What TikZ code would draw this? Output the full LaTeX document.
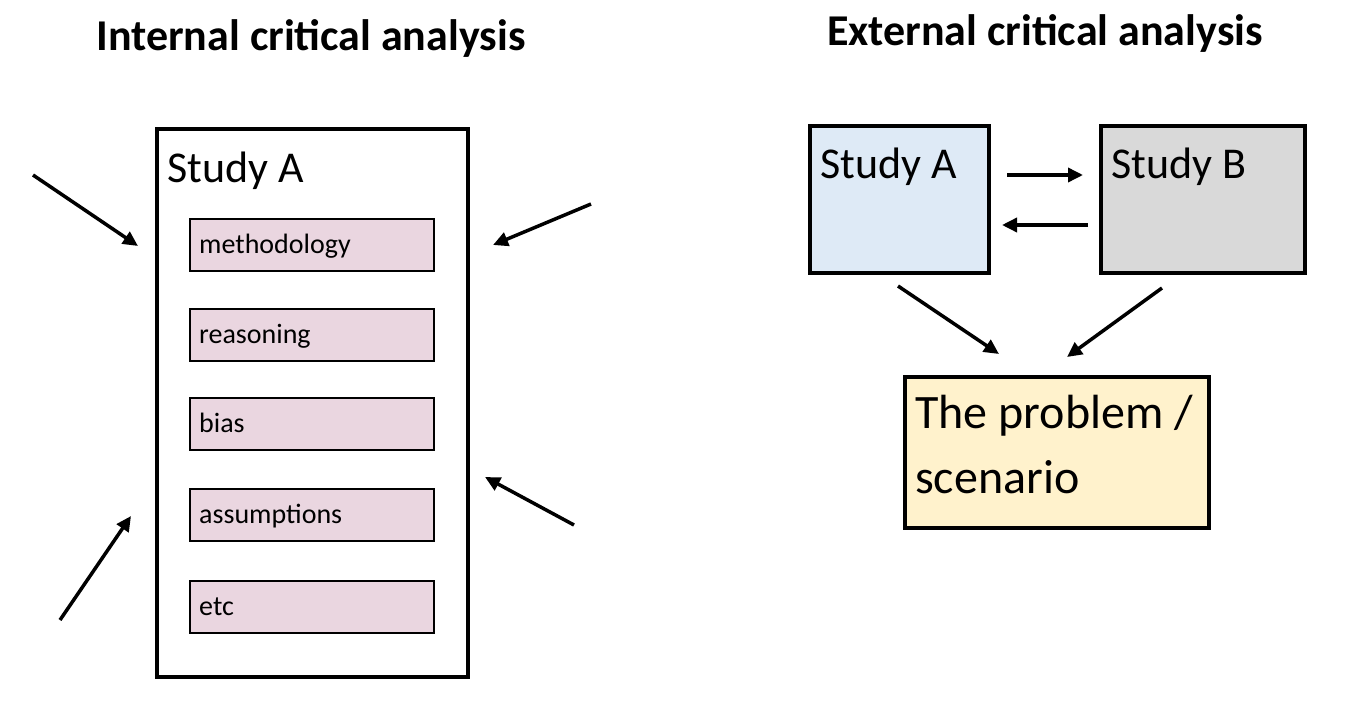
\documentclass[tikz,border=0pt]{standalone}
\usepackage{fontspec}
\setmainfont{Carlito}
\usetikzlibrary{arrows.meta}
\begin{document}
\begin{tikzpicture}[x=1pt,y=-1pt,
  box/.style={draw,line width=4pt,inner sep=0,anchor=north west},
  pink/.style={draw,line width=1.8pt,fill=pinkf,anchor=north west,minimum width=244pt,minimum height=52pt,inner sep=0},
  lbl/.style={anchor=base west,font=\fontsize{28}{32}\selectfont,inner sep=0},
  big/.style={anchor=base west,font=\fontsize{44}{50}\selectfont,inner sep=0},
  arr/.style={line width=3.5pt,-{Triangle[length=15pt,width=14pt]}}]
\definecolor{pinkf}{HTML}{EAD6E0}
\definecolor{bluef}{HTML}{DEEAF6}
\definecolor{grayf}{HTML}{D9D9D9}
\definecolor{yelf}{HTML}{FFF2CC}
\useasboundingbox (0,0) rectangle (1345,701);
\node[font=\bfseries\fontsize{44}{50}\selectfont] (t1) at (311,38) {Internal critical analysis};
\node[font=\bfseries\fontsize{44}{50}\selectfont] (t2) at (1045,33) {External critical analysis};
\node[box,minimum width=311pt,minimum height=548pt] (bigbox) at (155,127) {};
\node[big] (sa) at (167,182) {Study A};
\foreach \y/\t/\n in {218/methodology/m,308/reasoning/r,397/bias/b,488/assumptions/a,580/etc/e}{
  \node[pink] (\n) at (189,\y) {};
  \node[lbl] at (199,\y+35) {\t};
}
\coordinate (p1) at (33,175); \coordinate (q1) at (138,246);
\coordinate (p2) at (591,204); \coordinate (q2) at (493,245);
\coordinate (p3) at (574,525); \coordinate (q3) at (485,477);
\coordinate (p4) at (60,620); \coordinate (q4) at (131,516);
\foreach \i in {1,2,3,4}{\draw[arr] (p\i) -- (q\i);}
\node[box,fill=bluef,minimum width=179pt,minimum height=147pt] (A) at (808,124) {};
\node[box,fill=grayf,minimum width=204pt,minimum height=147pt] (B) at (1099,124) {};
\node[box,fill=yelf,minimum width=304pt,minimum height=151pt] (P) at (903,375) {};
\node[big] at (820,178) {Study A};
\node[big] at (1111,178) {Study B};
\node[anchor=base west,font=\fontsize{48}{54}\selectfont,inner sep=0] at (915,428) {The problem /};
\node[anchor=base west,font=\fontsize{48}{54}\selectfont,inner sep=0] at (915,493) {scenario};
\coordinate (a1) at (1007,175); \coordinate (b1) at (1083,175);
\coordinate (a2) at (1088,225); \coordinate (b2) at (1002,225);
\coordinate (a3) at (898,286); \coordinate (b3) at (999,354);
\coordinate (a4) at (1162,288); \coordinate (b4) at (1067,357);
\foreach \i in {1,2,3,4}{\draw[arr] (a\i) -- (b\i);}
\end{tikzpicture}
\end{document}
